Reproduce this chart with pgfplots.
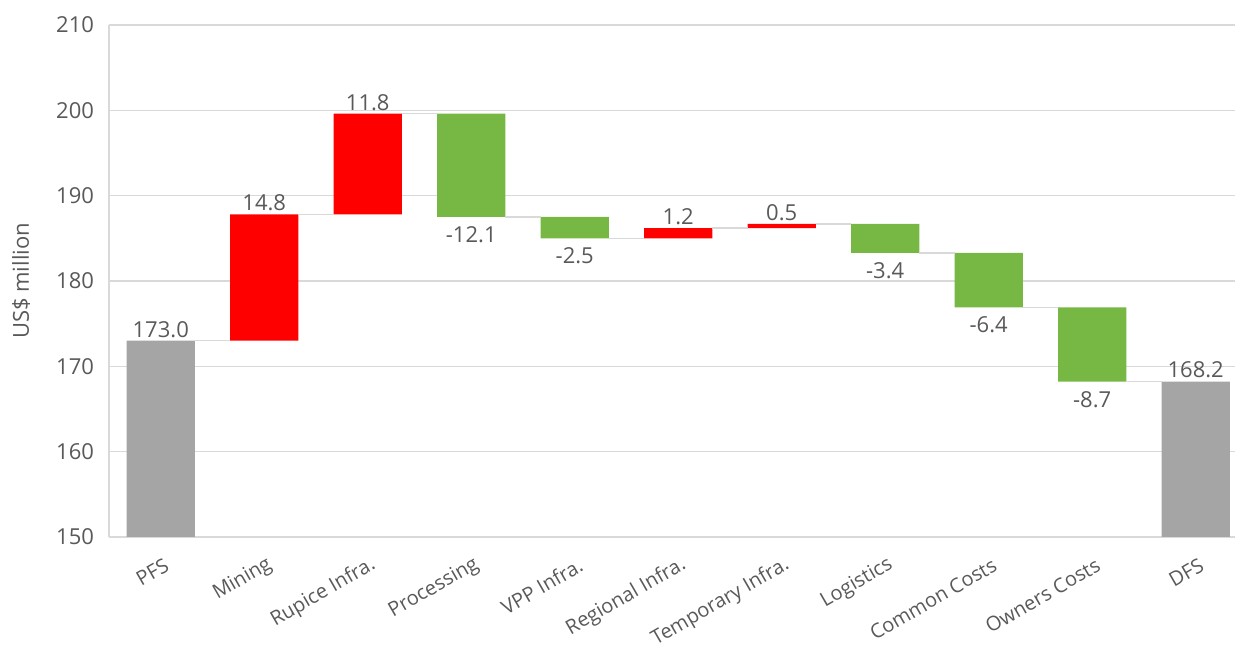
\documentclass[border=0pt]{standalone}
\usepackage{pgfplots}
\pgfplotsset{compat=1.18}
\usepackage{fontspec}
\setmainfont{Open Sans}
\definecolor{txt}{HTML}{595959}
\definecolor{gridc}{HTML}{D9D9D9}
\definecolor{barred}{HTML}{FF0000}
\definecolor{bargreen}{HTML}{76B843}
\definecolor{bargray}{HTML}{A5A5A5}
\pgfplotsset{common/.style={scale only axis, width=563pt, height=256pt,
  xmin=-0.5, xmax=10.38, ymin=150, ymax=210}}
\begin{document}
\begin{tikzpicture}[font=\fontsize{11}{13}\selectfont]
\useasboundingbox (-54.5pt,-55pt) rectangle (563pt,268.5pt);
\begin{axis}[common, ybar stacked, bar width=0.66,
  axis x line*=bottom, axis y line*=left,
  axis line style={gridc, line width=0.75pt},
  ymajorgrids, grid style={gridc, line width=0.75pt},
  ytick={150,160,...,210}, xtick={0,...,10},
  xticklabels={PFS,Mining,Rupice Infra.,Processing,VPP Infra.,Regional Infra.,Temporary Infra.,Logistics,Common Costs,Owners Costs,DFS},
  major tick length=0pt, tick style={draw=none},
  xticklabel style={rotate=30, anchor=east, text=txt, yshift=-13pt, xshift=-0.5pt, font=\fontsize{10}{12}\selectfont},
  yticklabel style={text=txt, xshift=-4pt},
  /pgf/number format/assume math mode=true,
  ylabel={US\$ million},
  ylabel style={text=txt, at={(axis description cs:-0.078,0.5)}, anchor=center},
]
\addplot[draw=none, fill=none] coordinates {(0,0) (1,173.0) (2,187.8) (3,187.5) (4,185.0) (5,185.0) (6,186.2) (7,183.3) (8,176.9) (9,168.2) (10,0)};
\addplot[draw=none, fill=barred] coordinates {(0,0) (1,14.8) (2,11.8) (3,0) (4,0) (5,1.2) (6,0.5) (7,0) (8,0) (9,0) (10,0)};
\addplot[draw=none, fill=bargreen] coordinates {(0,0) (1,0) (2,0) (3,12.1) (4,2.5) (5,0) (6,0) (7,3.4) (8,6.4) (9,8.7) (10,0)};
\addplot[draw=none, fill=bargray] coordinates {(0,173.0) (1,0) (2,0) (3,0) (4,0) (5,0) (6,0) (7,0) (8,0) (9,0) (10,168.2)};
\end{axis}
\begin{axis}[common, hide axis, clip=false]
\addplot[gridc, line width=0.75pt, unbounded coords=jump] coordinates {
 (0.33,173.0) (0.67,173.0) (0.5,nan)
 (1.33,187.8) (1.67,187.8) (1.5,nan)
 (2.33,199.6) (2.67,199.6) (2.5,nan)
 (3.33,187.5) (3.67,187.5) (3.5,nan)
 (4.33,185.0) (4.67,185.0) (4.5,nan)
 (5.33,186.2) (5.67,186.2) (5.5,nan)
 (6.33,186.7) (6.67,186.7) (6.5,nan)
 (7.33,183.3) (7.67,183.3) (7.5,nan)
 (8.33,176.9) (8.67,176.9) (8.5,nan)
 (9.33,168.2) (9.67,168.2)
};
\addplot[only marks, mark=none, nodes near coords, point meta=explicit symbolic,
  nodes near coords style={anchor=south, inner sep=1.5pt, text=txt}] table[meta=lab] {
x y lab
0 173.0 173.0
1 187.8 14.8
2 199.6 11.8
5 186.2 1.2
6 186.7 0.5
10 168.2 168.2
};
\addplot[only marks, mark=none, nodes near coords, point meta=explicit symbolic,
  nodes near coords style={anchor=north, inner sep=1.5pt, yshift=-3pt, text=txt}] table[meta=lab] {
x y lab
3 187.5 -12.1
4 185.0 -2.5
7 183.3 -3.4
8 176.9 -6.4
9 168.2 -8.7
};
\end{axis}
\end{tikzpicture}
\end{document}
